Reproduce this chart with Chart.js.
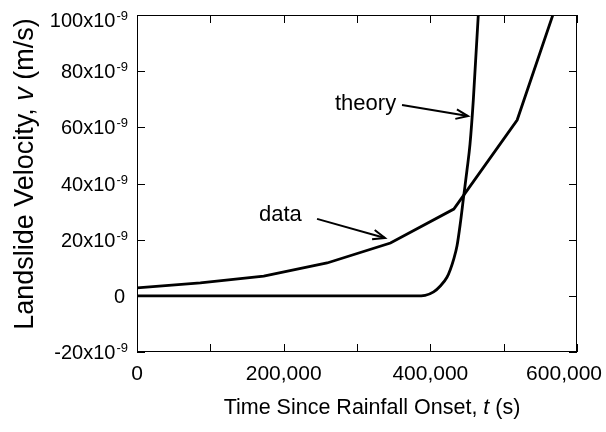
<!DOCTYPE html>
<html>
<head>
<meta charset="utf-8">
<script src="https://cdn.jsdelivr.net/npm/chart.js@4/dist/chart.umd.min.js"></script>
<style>
  html, body { margin: 0; padding: 0; background: #fff; }
  #c { display: block; }
</style>
</head>
<body>
<canvas id="c" width="606" height="432"></canvas>
<script>
// ---- data (velocity in units of 10^-9 m/s, time in s) ----
const dataTime = [0, 86400, 172800, 259200, 345600, 432000, 518400, 604800];
const dataVelocity = [2.8, 4.6, 7.05, 11.7, 18.8, 30.9, 62.6, 129];

const theoryTime = [0, 100000, 200000, 300000, 380000, 393000, 404500, 413600, 422700, 427300, 431800, 436400, 440900, 445400, 450000, 454100, 458600, 465400, 468500];
const theoryVelocity = [0, 0, 0, 0, 0, 0.2, 1.4, 3.5, 6.6, 9.4, 13, 17.8, 25.8, 35.3, 44.8, 54, 69.7, 100, 117];

const xTickValues = [0, 200000, 400000, 600000];
const xTickLabels = ['0', '200,000', '400,000', '600,000'];
const yTickValues = [-20, 0, 20, 40, 60, 80, 100];
const yTickLabels = ['-20x10^-9', '0', '20x10^-9', '40x10^-9', '60x10^-9', '80x10^-9', '100x10^-9'];

const seriesNames = ['data', 'theory'];

const FONT = '"Liberation Sans", Arial, Helvetica, sans-serif';

function toXY(xs, ys) { return xs.map((x, i) => ({ x: x, y: ys[i] })); }

function drawArrow(ctx, x0, y0, x1, y1) {
  ctx.beginPath();
  ctx.moveTo(x0, y0);
  ctx.lineTo(x1, y1);
  ctx.stroke();
  const ang = Math.atan2(y1 - y0, x1 - x0);
  const L = 13, a = 0.38;
  ctx.beginPath();
  ctx.moveTo(x1 - L * Math.cos(ang - a), y1 - L * Math.sin(ang - a));
  ctx.lineTo(x1, y1);
  ctx.lineTo(x1 - L * Math.cos(ang + a), y1 - L * Math.sin(ang + a));
  ctx.stroke();
}

function drawParts(ctx, parts, x, y) {
  let total = 0;
  parts.forEach(p => { ctx.font = p[1]; total += ctx.measureText(p[0]).width; });
  let cx = x - total / 2;
  ctx.textAlign = 'left';
  parts.forEach(p => { ctx.font = p[1]; ctx.fillText(p[0], cx, y); cx += ctx.measureText(p[0]).width; });
}

const overlay = {
  id: 'overlay',
  afterDraw(chart) {
    const ctx = chart.ctx;
    const ca = chart.chartArea;
    const xs = chart.scales.x, ys = chart.scales.y;
    ctx.save();
    ctx.strokeStyle = '#000';
    ctx.fillStyle = '#000';

    // frame
    ctx.lineWidth = 1;
    ctx.strokeRect(Math.round(ca.left) + 0.5, Math.round(ca.top) + 0.5,
                   Math.round(ca.right - ca.left) - 1, Math.round(ca.bottom - ca.top) - 1);

    // inward ticks on all sides
    const TL = 8;
    ctx.beginPath();
    xs.ticks.forEach(t => {
      const px = Math.round(xs.getPixelForValue(t.value)) + 0.5;
      ctx.moveTo(px, ca.bottom); ctx.lineTo(px, ca.bottom - TL);
      ctx.moveTo(px, ca.top); ctx.lineTo(px, ca.top + TL);
    });
    ys.ticks.forEach(t => {
      const py = Math.round(ys.getPixelForValue(t.value)) + 0.5;
      ctx.moveTo(ca.left, py); ctx.lineTo(ca.left + TL, py);
      ctx.moveTo(ca.right, py); ctx.lineTo(ca.right - TL, py);
    });
    ctx.stroke();

    // x tick labels
    ctx.font = '21px ' + FONT;
    ctx.textBaseline = 'alphabetic';
    xTickValues.forEach((v, i) => {
      const px = xs.getPixelForValue(v);
      const w = ctx.measureText(xTickLabels[i]).width;
      let left = px - w / 2;
      if (left + w > chart.width - 4) left = chart.width - 4 - w;
      ctx.textAlign = 'left';
      ctx.fillText(xTickLabels[i], left, ca.bottom + 28);
    });

    // y tick labels with superscript exponent
    yTickValues.forEach((v, i) => {
      const py = ys.getPixelForValue(v);
      const parts = yTickLabels[i].split('^');
      const base = Math.max(py + 7, 27);
      ctx.textAlign = 'right';
      if (parts.length > 1) {
        ctx.font = '13px ' + FONT;
        const ew = ctx.measureText(parts[1]).width;
        ctx.fillText(parts[1], ca.left - 9, base - 7);
        ctx.font = '20px ' + FONT;
        ctx.fillText(parts[0], ca.left - 9 - ew - 1, base);
      } else {
        ctx.font = '20px ' + FONT;
        ctx.fillText(parts[0], ca.left - 12, base);
      }
    });

    // x axis title
    ctx.textBaseline = 'alphabetic';
    drawParts(ctx, [
      ['Time Since Rainfall Onset, ', '21.5px ' + FONT],
      ['t', 'italic 21.5px ' + FONT],
      [' (s)', '21.5px ' + FONT]
    ], (ca.left + ca.right) / 2 + 15, 414);

    // y axis title (rotated)
    ctx.save();
    ctx.translate(33, 174);
    ctx.rotate(-Math.PI / 2);
    drawParts(ctx, [
      ['Landslide Velocity, ', '27px ' + FONT],
      ['v', 'italic 27px ' + FONT],
      [' (m/s)', '27px ' + FONT]
    ], 0, 0);
    ctx.restore();

    // annotations
    ctx.font = '22px ' + FONT;
    ctx.textAlign = 'left';
    ctx.fillText(seriesNames[1], xs.getPixelForValue(270000), ys.getPixelForValue(66.2));
    ctx.fillText(seriesNames[0], xs.getPixelForValue(166400), ys.getPixelForValue(26.6));
    ctx.lineWidth = 2;
    drawArrow(ctx, xs.getPixelForValue(361400), ys.getPixelForValue(67.95),
                   xs.getPixelForValue(451400), ys.getPixelForValue(64.0));
    drawArrow(ctx, xs.getPixelForValue(245500), ys.getPixelForValue(27.4),
                   xs.getPixelForValue(338200), ys.getPixelForValue(20.6));
    ctx.restore();
  }
};

new Chart(document.getElementById('c'), {
  type: 'line',
  data: {
    datasets: [
      {
        label: seriesNames[0],
        data: toXY(dataTime, dataVelocity),
        borderColor: '#000',
        borderWidth: 2.8,
        pointRadius: 0,
        tension: 0,
        fill: false,
        clip: 0
      },
      {
        label: seriesNames[1],
        data: toXY(theoryTime, theoryVelocity),
        borderColor: '#000',
        borderWidth: 2.8,
        pointRadius: 0,
        cubicInterpolationMode: 'monotone',
        fill: false,
        clip: 0
      }
    ]
  },
  options: {
    responsive: false,
    devicePixelRatio: 1,
    animation: false,
    layout: { padding: { top: 15, right: 29, left: 0, bottom: 0 } },
    plugins: { legend: { display: false }, tooltip: { enabled: false } },
    scales: {
      x: {
        type: 'linear',
        min: 0, max: 600000,
        ticks: { display: false, stepSize: 100000 },
        grid: { display: false },
        border: { display: false },
        afterFit(scale) { scale.height = 80; }
      },
      y: {
        type: 'linear',
        min: -20, max: 100,
        ticks: { display: false, stepSize: 20 },
        grid: { display: false },
        border: { display: false },
        afterFit(scale) { scale.width = 137; }
      }
    }
  },
  plugins: [overlay]
});
</script>
</body>
</html>
